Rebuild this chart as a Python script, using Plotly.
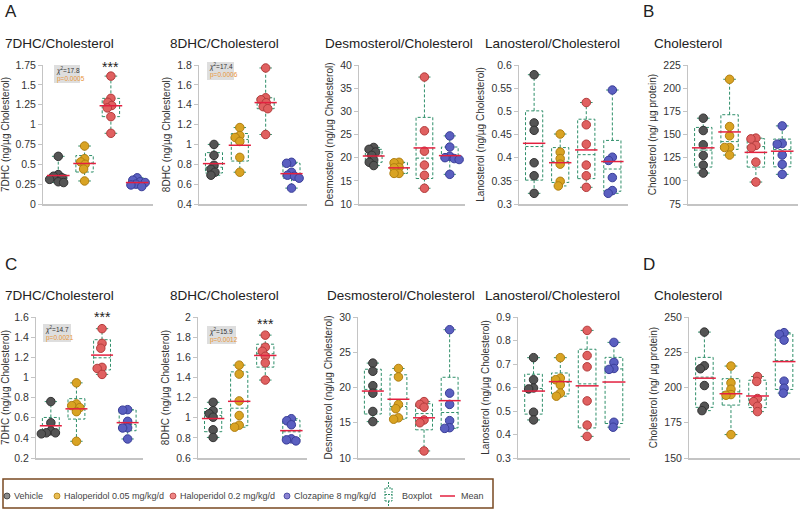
import math
import numpy as np
import plotly.graph_objects as go

GROUPS = ["Vehicle", "Haloperidol 0.05 mg/kg/d", "Haloperidol 0.2 mg/kg/d", "Clozapine 8 mg/kg/d"]

# ---- values per panel: [Vehicle, Haloperidol 0.05, Haloperidol 0.2, Clozapine] ----
A_7DHC = [[0.60, 0.37, 0.35, 0.33, 0.31, 0.28, 0.27], [0.73, 0.57, 0.53, 0.50, 0.44, 0.29],
          [1.61, 1.33, 1.28, 1.24, 1.21, 1.10, 0.89], [0.33, 0.30, 0.28, 0.27, 0.25, 0.24, 0.22]]
A_8DHC = [[1.00, 0.89, 0.79, 0.75, 0.72, 0.69], [1.17, 1.09, 1.07, 1.03, 0.87, 0.72],
          [1.77, 1.47, 1.45, 1.42, 1.38, 1.36, 1.10], [0.82, 0.81, 0.72, 0.69, 0.68, 0.66, 0.56]]
A_DESMO = [[22.2, 21.8, 21.2, 20.5, 19.5, 19.0, 18.3], [19.0, 18.9, 17.9, 17.8, 16.6, 16.6],
           [37.4, 25.8, 21.4, 18.4, 16.2, 13.4], [24.7, 22.3, 20.3, 20.0, 19.8, 19.6, 16.4]]
A_LANO = [[0.579, 0.475, 0.459, 0.389, 0.361, 0.323], [0.451, 0.412, 0.398, 0.386, 0.349, 0.339],
          [0.519, 0.471, 0.429, 0.384, 0.361, 0.336], [0.546, 0.401, 0.394, 0.357, 0.329, 0.323]]
B_CHOL = [[167.6, 154.3, 138.9, 127.4, 117.0, 108.4], [209.6, 158.6, 148.6, 136.0, 136.0, 127.8],
          [146.1, 145.3, 138.2, 135.7, 120.2, 98.7], [159.3, 140.3, 139.6, 127.8, 117.8, 107.0]]
C_7DHC = [[0.76, 0.55, 0.47, 0.45, 0.45, 0.44], [0.946, 0.737, 0.72, 0.70, 0.66, 0.366],
          [1.484, 1.338, 1.29, 1.10, 1.089, 1.03], [0.68, 0.675, 0.564, 0.50, 0.498, 0.389]]
C_8DHC = [[1.153, 1.07, 1.04, 1.005, 0.88, 0.804], [1.522, 1.433, 1.167, 1.022, 0.926, 0.906],
          [1.82, 1.70, 1.66, 1.61, 1.545, 1.374], [0.99, 0.97, 0.93, 0.79, 0.78, 0.77]]
C_DESMO = [[23.46, 22.3, 20.26, 19.2, 16.6, 15.16], [22.7, 21.5, 17.6, 17.0, 15.7, 15.5],
           [18.0, 17.6, 17.2, 15.4, 15.0, 11.0], [28.2, 19.2, 17.6, 15.3, 14.3, 14.2]]
C_LANO = [[0.727, 0.633, 0.598, 0.594, 0.495, 0.462], [0.727, 0.64, 0.633, 0.611, 0.576, 0.563],
          [0.843, 0.736, 0.688, 0.543, 0.44, 0.392], [0.792, 0.707, 0.681, 0.677, 0.452, 0.431]]
D_CHOL = [[239.3, 215.4, 213.3, 201.4, 186.7, 183.6], [215.2, 203.3, 198.8, 195.0, 194.5, 166.6],
          [207.8, 204.3, 192.2, 190.0, 186.7, 182.9], [238.9, 237.7, 233.6, 204.5, 199.5, 196.0]]

# ---- tick values ----
T_7DHC_A = [0, 0.25, 0.5, 0.75, 1, 1.25, 1.5, 1.75]
T_8DHC_A = [0.4, 0.6, 0.8, 1, 1.2, 1.4, 1.6, 1.8]
T_DESMO_A = [10, 15, 20, 25, 30, 35, 40]
T_LANO_A = [0.3, 0.35, 0.4, 0.45, 0.5, 0.55, 0.6]
T_CHOL_B = [75, 100, 125, 150, 175, 200, 225]
T_7DHC_C = [0.2, 0.4, 0.6, 0.8, 1, 1.2, 1.4, 1.6]
T_8DHC_C = [0.6, 0.8, 1, 1.2, 1.4, 1.6, 1.8, 2]
T_DESMO_C = [10, 15, 20, 25, 30]
T_LANO_C = [0.3, 0.4, 0.5, 0.6, 0.7, 0.8, 0.9]
T_CHOL_D = [150, 175, 200, 225, 250]

TITLES = ["7DHC/Cholesterol", "8DHC/Cholesterol", "Desmosterol/Cholesterol", "Lanosterol/Cholesterol", "Cholesterol"] * 2
YLABELS = ["7DHC (ng/µg Cholesterol)", "8DHC (ng/µg Cholesterol)", "Desmosterol (ng/µg Cholesterol)",
           "Lanosterol (ng/µg Cholesterol)", "Cholesterol (ng/ µg protein)"] * 2
PANEL_LETTERS = ["A", "B", "C", "D"]

# Kruskal-Wallis stats shown in the 7DHC and 8DHC panels
CHI2 = ["17.8", "17.4", "14.7", "15.9"]
PVAL = ["0.0005", "0.0006", "0.0021", "0.0012"]
STAR_Y = [1.72, 1.86, 1.60, 1.93]

PANELS = [A_7DHC, A_8DHC, A_DESMO, A_LANO, B_CHOL, C_7DHC, C_8DHC, C_DESMO, C_LANO, D_CHOL]
TICKS = [T_7DHC_A, T_8DHC_A, T_DESMO_A, T_LANO_A, T_CHOL_B, T_7DHC_C, T_8DHC_C, T_DESMO_C, T_LANO_C, T_CHOL_D]

# ---- styling ----
FILL = ["#545454", "#d9a323", "#e06060", "#5a5fc0"]
EDGE = ["#333333", "#b07f12", "#b33c3c", "#3a3e98"]
LEG_FILL = ["#8c8c8c", "#e9bd52", "#ef8585", "#8a82d2"]
BOX_C = "#2f8f6a"
MEAN_C = "#e3203f"
AX_C = "#c4c4c4"
FONT = "Liberation Sans, Arial, sans-serif"
W, H = 800, 510

X_PX = [(43, 153), (199, 307), (359, 465), (519, 628), (688, 798),
        (36, 143), (198, 307), (358, 465), (518, 630), (689, 800)]
Y_PX = [(65, 204), (317, 458)]
XR = [-0.58, 3.6]


def px2x(p):
    return p / W


def px2y(p):
    return 1 - p / H


def swarm(vals, ppu_y, ppu_x, d=5.0):
    placed, offs = [], []
    for v in vals:
        y = v * ppu_y
        cands = [0.0]
        for py, pxx in placed:
            dy = abs(y - py)
            if dy < d:
                w = math.sqrt(d * d - dy * dy)
                cands += [pxx - w, pxx + w]
        best = 0.0
        for c in sorted(cands, key=lambda c: (abs(c), c)):
            if all((c - pxx) ** 2 + (y - py) ** 2 >= d * d - 1e-6 for py, pxx in placed):
                best = c
                break
        placed.append((y, best))
        offs.append(best / ppu_x)
    return offs


fig = go.Figure()
layout = {}
annotations = []
shapes = []

BW, CW, MW = 0.33, 0.24, 0.43
for i, data in enumerate(PANELS):
    k = i + 1
    xa, ya = f"x{k}", f"y{k}"
    x0p, x1p = X_PX[i]
    y0p, y1p = Y_PX[i // 5]
    ticks = TICKS[i]
    lo, hi = ticks[0], ticks[-1]
    ppu_y = (y1p - y0p) / (hi - lo)
    ppu_x = (x1p - x0p) / (XR[1] - XR[0])

    # boxplots
    bx, by = [], []
    for g, vals in enumerate(data):
        q1, med, q3 = np.percentile(vals, [25, 50, 75], method="weibull")
        mn, mx = min(vals), max(vals)
        bx += [g - BW, g + BW, g + BW, g - BW, g - BW, None, g - BW, g + BW, None,
               g, g, None, g, g, None, g - CW, g + CW, None, g - CW, g + CW, None]
        by += [q1, q1, q3, q3, q1, None, med, med, None,
               q3, mx, None, q1, mn, None, mx, mx, None, mn, mn, None]
    fig.add_trace(go.Scatter(x=bx, y=by, mode="lines", xaxis=xa, yaxis=ya, showlegend=False,
                             line=dict(color=BOX_C, width=1, dash="3px,2px"), hoverinfo="skip",
                             cliponaxis=False))
    # dots
    for g, vals in enumerate(data):
        offs = swarm(vals, ppu_y, ppu_x)
        fig.add_trace(go.Scatter(x=[g + o for o in offs], y=vals, mode="markers", xaxis=xa, yaxis=ya,
                                 showlegend=False, cliponaxis=False, name=GROUPS[g],
                                 marker=dict(size=8.5, color=FILL[g], line=dict(color=EDGE[g], width=1))))
    # means
    mx_, my_ = [], []
    for g, vals in enumerate(data):
        m = float(np.mean(vals))
        mx_ += [g - MW, g + MW, None]
        my_ += [m, m, None]
    fig.add_trace(go.Scatter(x=mx_, y=my_, mode="lines", xaxis=xa, yaxis=ya, showlegend=False,
                             line=dict(color=MEAN_C, width=1.5), cliponaxis=False))

    sfx = "" if k == 1 else str(k)
    layout["xaxis" + sfx] = dict(domain=[px2x(x0p), px2x(x1p)], range=XR, anchor=ya, showline=True,
                                 linecolor=AX_C, linewidth=1.5, showticklabels=False, ticks="",
                                 showgrid=False, zeroline=False, fixedrange=True)
    layout["yaxis" + sfx] = dict(domain=[px2y(y1p), px2y(y0p)], range=[lo, hi], anchor=xa, showline=True,
                                 linecolor=AX_C, linewidth=1, ticks="outside", ticklen=4, tickcolor=AX_C,
                                 tickvals=ticks, ticktext=[f"{t:g}" for t in ticks],
                                 tickfont=dict(size=10.5, color="#333", family=FONT),
                                 showgrid=False, zeroline=False, automargin=False, fixedrange=True,
                                 title=dict(text=YLABELS[i], font=dict(size=10, color="#333", family=FONT),
                                            standoff=4))

# panel titles (measured left positions)
TITLE_X = [3, 168, 323, 483, 652, 3, 168, 325, 483, 652]
for i in range(10):
    annotations.append(dict(text=TITLES[i], xref="paper", yref="paper", x=px2x(TITLE_X[i]),
                            y=px2y(43 if i < 5 else 295), xanchor="left", yanchor="middle", showarrow=False,
                            font=dict(size=13.5, color="#222", family=FONT)))

# panel letters
for L, (lx, ly) in zip(PANEL_LETTERS, [(3, 11), (641, 11), (3, 264), (641, 264)]):
    annotations.append(dict(text=L, xref="paper", yref="paper", x=px2x(lx), y=px2y(ly), xanchor="left",
                            yanchor="middle", showarrow=False, font=dict(size=17, color="#222", family=FONT)))

# stats boxes + stars
STAT_PANELS = [0, 1, 5, 6]
STAT_BOX = [(54, 80, 65, 83), (207, 234, 62, 80), (43, 71, 324, 342), (207, 236, 326, 344)]
for j, p in enumerate(STAT_PANELS):
    bx0, bx1, by0, by1 = STAT_BOX[j]
    shapes.append(dict(type="rect", xref="paper", yref="paper", x0=px2x(bx0), x1=px2x(bx1),
                       y0=px2y(by1), y1=px2y(by0), fillcolor="#dedede", line=dict(width=0), layer="below"))
    txt = (f"<i>χ</i><sup>2</sup>={CHI2[j]}<br>"
           f"<span style='color:#e8963a'>p={PVAL[j]}</span>")
    annotations.append(dict(text=txt, xref="paper", yref="paper", align="left",
                            x=px2x(bx0 + 1), y=px2y((by0 + by1) / 2), xanchor="left", yanchor="middle",
                            showarrow=False, borderpad=0, font=dict(size=6.5, color="#333", family=FONT)))
    k = p + 1
    annotations.append(dict(text="***", xref=f"x{k}", yref=f"y{k}", x=2, y=STAR_Y[j], xanchor="center",
                            yanchor="middle", showarrow=False, font=dict(size=14, color="#222", family=FONT)))

# legend (drawn manually)
LY = 496
shapes.append(dict(type="rect", xref="paper", yref="paper", x0=px2x(3), x1=px2x(493), y0=px2y(508),
                   y1=px2y(479), line=dict(color="#7a4a22", width=1.5), fillcolor="rgba(0,0,0,0)"))
LEG_X = [7, 57, 173, 287]
for g in range(4):
    cx = LEG_X[g]
    shapes.append(dict(type="circle", xref="paper", yref="paper", x0=px2x(cx - 3), x1=px2x(cx + 3),
                       y0=px2y(LY + 3), y1=px2y(LY - 3), fillcolor=LEG_FILL[g],
                       line=dict(color=EDGE[g], width=0.8)))
    annotations.append(dict(text=GROUPS[g], xref="paper", yref="paper", x=px2x(cx + 5), y=px2y(LY),
                            xanchor="left", yanchor="middle", showarrow=False,
                            font=dict(size=9, color="#444", family=FONT)))
# boxplot icon
shapes.append(dict(type="rect", xref="paper", yref="paper", x0=px2x(385), x1=px2x(392), y0=px2y(501),
                   y1=px2y(488), line=dict(color=BOX_C, width=1, dash="2px,1px")))
for ya_, yb_ in [(482, 488), (501, 507)]:
    shapes.append(dict(type="line", xref="paper", yref="paper", x0=px2x(388.5), x1=px2x(388.5),
                       y0=px2y(ya_), y1=px2y(yb_), line=dict(color=BOX_C, width=1, dash="2px,1px")))
shapes.append(dict(type="line", xref="paper", yref="paper", x0=px2x(385), x1=px2x(392), y0=px2y(494.5),
                   y1=px2y(494.5), line=dict(color=BOX_C, width=1, dash="2px,1px")))
annotations.append(dict(text="Boxplot", xref="paper", yref="paper", x=px2x(400), y=px2y(LY), xanchor="left",
                        yanchor="middle", showarrow=False, font=dict(size=9, color="#444", family=FONT)))
shapes.append(dict(type="line", xref="paper", yref="paper", x0=px2x(440), x1=px2x(455), y0=px2y(LY),
                   y1=px2y(LY), line=dict(color=MEAN_C, width=1.5)))
annotations.append(dict(text="Mean", xref="paper", yref="paper", x=px2x(459), y=px2y(LY), xanchor="left",
                        yanchor="middle", showarrow=False, font=dict(size=9, color="#444", family=FONT)))

fig.update_layout(width=W, height=H, margin=dict(l=0, r=0, t=0, b=0), plot_bgcolor="white",
                  paper_bgcolor="white", showlegend=False, annotations=annotations, shapes=shapes,
                  font=dict(family=FONT), hovermode=False, **layout)

# remove the browser's default page margin so the 800x510 figure fills the window exactly
fig.write_html("out.html", config={"displayModeBar": False},
               post_script="document.body.style.margin='0';document.body.style.overflow='hidden';")
